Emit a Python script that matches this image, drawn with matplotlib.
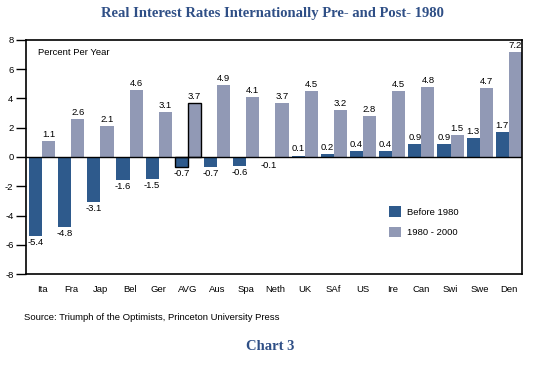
import matplotlib
matplotlib.use("Agg")
import matplotlib.pyplot as plt
import numpy as np

categories = ["Ita", "Fra", "Jap", "Bel", "Ger", "AVG", "Aus", "Spa", "Neth",
              "UK", "SAf", "US", "Ire", "Can", "Swi", "Swe", "Den"]
before_1980 = [-5.4, -4.8, -3.1, -1.6, -1.5, -0.7, -0.7, -0.6, -0.1,
               0.1, 0.2, 0.4, 0.4, 0.9, 0.9, 1.3, 1.7]
after_1980 = [1.1, 2.6, 2.1, 4.6, 3.1, 3.7, 4.9, 4.1, 3.7,
              4.5, 3.2, 2.8, 4.5, 4.8, 1.5, 4.7, 7.2]
yticks = [-8, -6, -4, -2, 0, 2, 4, 6, 8]

dark = "#2e5a8c"
light = "#9199b5"
title_col = "#2f4f86"
sans = "Liberation Sans"
serif = "Liberation Serif"

W, H = 534, 366
fig = plt.figure(figsize=(W / 100, H / 100), dpi=100)
ax = fig.add_axes([26 / W, (H - 274) / H, (522 - 26) / W, (274 - 40) / H])

x = np.arange(len(categories))
bw = 0.45
edge_b = ["black" if c == "AVG" else dark for c in categories]
edge_a = ["black" if c == "AVG" else light for c in categories]
lw = [1.0 if c == "AVG" else 0 for c in categories]
b1 = ax.bar(x - bw / 2 + 0.05, before_1980, bw, color=dark, edgecolor=edge_b,
            linewidth=lw, label="Before 1980", zorder=2)
b2 = ax.bar(x + bw / 2 + 0.05, after_1980, bw, color=light, edgecolor=edge_a,
            linewidth=lw, label="1980 - 2000", zorder=2)

ax.axhline(0, color="black", linewidth=1.0, zorder=3)

fs = 6.8
for xi, v in zip(x, before_1980):
    if v < 0:
        ax.annotate(f"{v:.1f}", (xi - bw / 2 + 0.05, v), xytext=(0, -1.5),
                    textcoords="offset points", ha="center", va="top",
                    fontsize=fs, family=sans)
    else:
        ax.annotate(f"{v:.1f}", (xi - bw / 2 + 0.05, v), xytext=(0, 1.5),
                    textcoords="offset points", ha="center", va="bottom",
                    fontsize=fs, family=sans)
for xi, v in zip(x, after_1980):
    ax.annotate(f"{v:.1f}", (xi + bw / 2 + 0.05, v), xytext=(0, 1.5),
                textcoords="offset points", ha="center", va="bottom",
                fontsize=fs, family=sans)

ax.set_xlim(-0.5, len(categories) - 0.5)
ax.set_ylim(-8, 8)
ax.set_yticks(yticks)
ax.set_yticklabels([str(t) for t in yticks], fontsize=fs, family=sans)
ax.set_xticks(x + 0.05)
ax.set_xticklabels(categories, fontsize=fs, family=sans)
ax.tick_params(axis="x", length=0, pad=8)
ax.tick_params(axis="y", length=7, width=1, pad=2)
for s in ax.spines.values():
    s.set_linewidth(1.2)

ax.text(0.025, 0.965, "Percent Per Year", transform=ax.transAxes,
        ha="left", va="top", fontsize=fs, family=sans)

ax.legend(handles=[b1, b2], loc="upper left", bbox_to_anchor=(0.715, 0.325),
          frameon=False, prop={"family": sans, "size": fs},
          handlelength=1.3, handleheight=1.3, labelspacing=1.1,
          handletextpad=0.6)

fig.text(272 / W, 1 - 13 / H, "Real Interest Rates Internationally Pre- and Post- 1980",
         ha="center", va="center", fontsize=10.5, fontweight="bold",
         color=title_col, family=serif)
fig.text(24 / W, 1 - 317 / H, "Source: Triumph of the Optimists, Princeton University Press",
         ha="left", va="center", fontsize=fs, family=sans)
fig.text(270 / W, 1 - 347 / H, "Chart 3", ha="center", va="center",
         fontsize=10.5, fontweight="bold", color=title_col, family=serif)

fig.savefig("out.png", dpi=100)
